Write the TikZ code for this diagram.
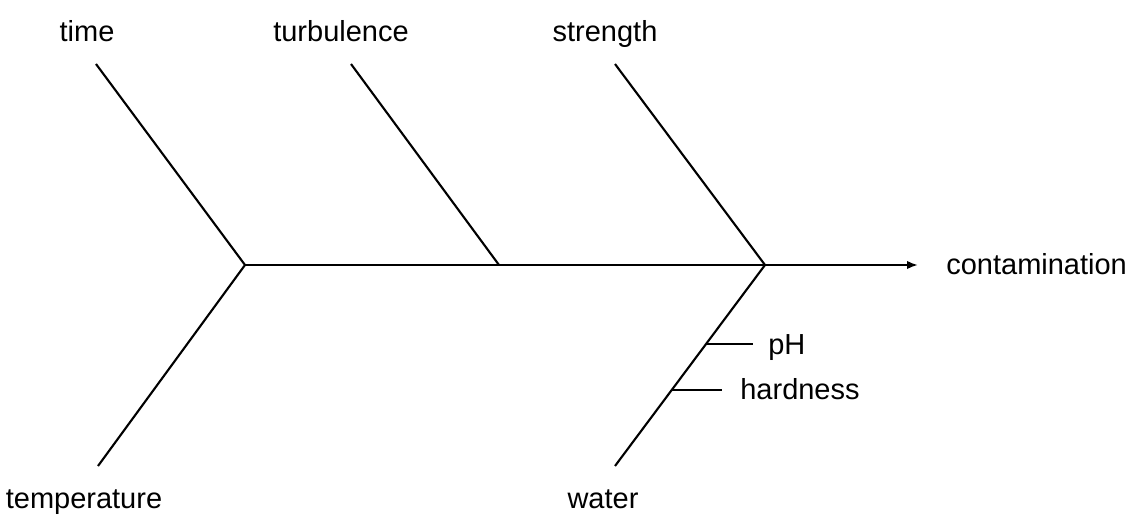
\documentclass[tikz,border=0pt]{standalone}
\usepackage{fontspec}
\setmainfont{Liberation Sans}
\usetikzlibrary{arrows.meta}
\usetikzlibrary{positioning}

\begin{document}
\begin{tikzpicture}[x=0.02cm, y=-0.02cm,
		bone/.style={line width=1.2pt},
		cause/.style={font=\fontsize{16.5}{19}\selectfont, inner sep=0pt}]
			\useasboundingbox (0,0) rectangle (1131,516);

			% spine
			\coordinate (Tail) at (245,265);
			\coordinate (Mid) at (499,265);
			\coordinate (Head) at (765,265);
			\coordinate (Tip) at (918,265);
			\node[cause, anchor=base west] (contamination) at (946,275) {contamination};
			\draw[bone, -{Latex[length=2.2mm, width=1.7mm]}] (Tail) -- (Tip);

			% causes
			\node[cause, anchor=base] (time) at (87,42) {time};
			\node[cause, anchor=base] (turbulence) at (341,42) {turbulence};
			\node[cause, anchor=base] (strength) at (605,42) {strength};
			\node[cause, anchor=base] (temperature) at (84,508) {temperature};
			\node[cause, anchor=base] (water) at (603,508) {water};

			\coordinate (TimeEnd) at (96,64);
			\coordinate (TurbulenceEnd) at (351,64);
			\coordinate (StrengthEnd) at (615,64);
			\coordinate (TemperatureEnd) at (98,466);
			\coordinate (WaterEnd) at (615,466);

			\draw[bone] (TimeEnd) -- (Tail);
			\draw[bone] (TemperatureEnd) -- (Tail);
			\draw[bone] (TurbulenceEnd) -- (Mid);
			\draw[bone] (StrengthEnd) -- (Head);
			\draw[bone] (Head) -- (WaterEnd)
				coordinate[pos=0.393] (pHRoot)
				coordinate[pos=0.622] (hardnessRoot);

			% sub-causes of water
			\node[cause, anchor=base west] (pH) at (768,355) {pH};
			\node[cause, anchor=base west] (hardness) at (740,399) {hardness};
			\draw[bone, shorten >=0.3cm] (pHRoot) -- (pHRoot -| pH.west);
			\draw[bone, shorten >=0.36cm] (hardnessRoot) -- (hardnessRoot -| hardness.west);
		\end{tikzpicture}
\end{document}
